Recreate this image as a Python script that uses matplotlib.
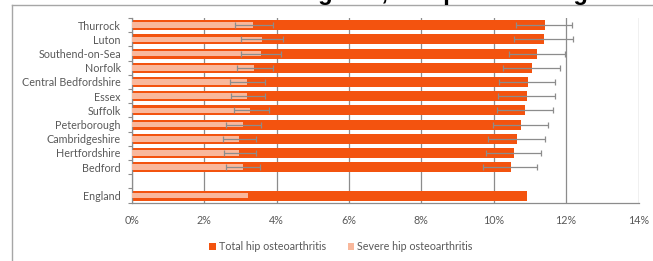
import matplotlib.pyplot as plt
import numpy as np
from matplotlib.lines import Line2D

# data, bottom to top; '' is the spacer row
areas = ['England', '', 'Bedford', 'Hertfordshire', 'Cambridgeshire', 'Peterborough',
         'Suffolk', 'Essex', 'Central Bedfordshire', 'Norfolk', 'Southend-on-Sea',
         'Luton', 'Thurrock']
total = [10.91, np.nan, 10.47, 10.57, 10.65, 10.76, 10.87, 10.93, 10.95, 11.07, 11.20, 11.39, 11.41]
total_lo = [np.nan, np.nan, 9.69, 9.79, 9.85, 9.98, 10.09, 10.13, 10.15, 10.26, 10.42, 10.57, 10.61]
total_hi = [np.nan, np.nan, 11.20, 11.30, 11.42, 11.50, 11.63, 11.69, 11.69, 11.82, 11.98, 12.19, 12.16]
severe = [3.22, np.nan, 3.07, 2.96, 2.95, 3.07, 3.26, 3.19, 3.19, 3.38, 3.56, 3.60, 3.35]
severe_lo = [np.nan, np.nan, 2.61, 2.55, 2.52, 2.61, 2.81, 2.73, 2.71, 2.91, 3.02, 3.02, 2.86]
severe_hi = [np.nan, np.nan, 3.53, 3.44, 3.42, 3.57, 3.78, 3.69, 3.69, 3.90, 4.13, 4.18, 3.89]
xticks = [0, 2, 4, 6, 8, 10, 12, 14]

dark = '#F3530F'
light = '#F9B89C'
grey = '#8c8c8c'
txt = '#595959'

plt.rcParams['font.family'] = ['Lato', 'DejaVu Sans']

fig = plt.figure(figsize=(6.53, 2.61), dpi=100)
ax = fig.add_axes([0.2021, 0.2234, 0.7757, 0.7073])

y = np.arange(len(areas))
tot = np.array(total)
sev = np.array(severe)

ax.barh(y, tot, height=0.7, color=dark, zorder=2, label='Total hip osteoarthritis')
ax.barh(y, sev, height=0.4, color=light, zorder=3, label='Severe hip osteoarthritis')

tl = tot - np.array(total_lo)
th = np.array(total_hi) - tot
ax.errorbar(tot, y, xerr=[tl, th], fmt='none', ecolor=grey, elinewidth=0.9,
            capsize=2.5, capthick=0.9, zorder=4)
sl = sev - np.array(severe_lo)
sh = np.array(severe_hi) - sev
ax.errorbar(sev, y, xerr=[sl, sh], fmt='none', ecolor=grey, elinewidth=0.9,
            capsize=2.5, capthick=0.9, zorder=4)

ax.set_xlim(0, 14)
ax.set_ylim(-0.5, len(areas) - 0.5)
ax.set_xticks(xticks)
ax.set_xticklabels([f'{v}%' for v in xticks], color=txt, fontsize=7.75)
ax.set_yticks(y)
ax.set_yticklabels(areas, color=txt, fontsize=7.75)
ax.set_yticks(np.arange(-0.5, len(areas)), minor=True)
ax.tick_params(axis='y', which='major', length=0, pad=8)
ax.tick_params(axis='y', which='minor', length=3, color=grey, width=0.8)
ax.tick_params(axis='x', length=0, pad=9)
ax.grid(axis='x', color=grey, linewidth=0.9, zorder=0)
for s in ['top', 'right']:
    ax.spines[s].set_visible(False)
for s in ['left', 'bottom']:
    ax.spines[s].set_color(grey)
    ax.spines[s].set_linewidth(0.9)

leg = fig.legend(loc='center', bbox_to_anchor=(0.522, 0.055), ncol=2, frameon=False,
                 fontsize=7.75, handlelength=0.6, handleheight=0.6, handletextpad=0.3,
                 columnspacing=2.0)
for t in leg.get_texts():
    t.set_color(txt)

# outer frame of the original image (clipped chart box)
fig.add_artist(Line2D([0.0184, 0.0184], [0, 0.981], color='#a6a6a6', linewidth=1))
fig.add_artist(Line2D([0.0184, 1.0], [0.981, 0.981], color='#a6a6a6', linewidth=1))

# title, cut off at the top in the original
fig.text(0.975, 1.0, 'Figure 1: Estimated prevalence of hip osteoarthritis in the East of England, compared to England',
         ha='right', va='baseline', fontsize=17, fontweight='bold',
         family='Liberation Sans', color='black')

fig.savefig('out.png', dpi=100)
